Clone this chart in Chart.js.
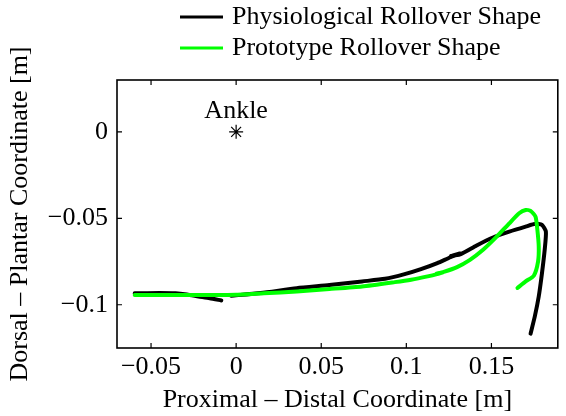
<!DOCTYPE html>
<html>
<head>
<meta charset="utf-8">
<script src="https://cdn.jsdelivr.net/npm/chart.js@4/dist/chart.umd.min.js"></script>
<style>
  html, body { margin: 0; padding: 0; background: #fff; }
  #wrap { width: 566px; height: 416px; position: relative; }
</style>
</head>
<body>
<div id="wrap"><canvas id="c" width="566" height="416"></canvas></div>
<script>
// ---- data ----
const seriesNames = ['Physiological Rollover Shape', 'Prototype Rollover Shape'];

// Physiological rollover shape (x: proximal-distal [m], y: dorsal-plantar [m]); NaN = pen up
const physX = [-0.0087, -0.0155, -0.0221, -0.0290, -0.0356, -0.0450, -0.0596, NaN,
  -0.0029, 0.0144, 0.0356, 0.0548, 0.0740, 0.0875, 0.0990, 0.1086, 0.1182, 0.1259, 0.1317, 0.1262, 0.1320,
  0.1413, 0.1509, 0.1605, 0.1701, 0.1759, 0.1797, 0.1820, 0.1813, 0.1797, 0.1778, 0.1755, 0.1730];
const physY = [-0.0975, -0.0962, -0.0952, -0.0941, -0.0934, -0.0932, -0.0934, NaN,
  -0.0948, -0.0932, -0.0904, -0.0886, -0.0865, -0.0850, -0.0823, -0.0794, -0.0759, -0.0725, -0.0703, -0.0718, -0.0707,
  -0.0657, -0.0611, -0.0577, -0.0548, -0.0532, -0.0538, -0.0577, -0.0682, -0.0817, -0.0952, -0.1067, -0.1167];

// Prototype rollover shape
const protoX = [-0.0596, -0.0400, -0.0221, 0.0000, 0.0163, 0.0356, 0.0548, 0.0740, 0.0932, 0.1028, 0.1125,
  0.1180, 0.1215, 0.1178, 0.1220, 0.1298, 0.1374, 0.1451, 0.1528, 0.1605, 0.1663, 0.1701, 0.1730, 0.1759,
  0.1770, 0.1778, 0.1774, 0.1749, 0.1701, 0.1653];
const protoY = [-0.0944, -0.0944, -0.0944, -0.0942, -0.0934, -0.0923, -0.0909, -0.0894, -0.0869, -0.0855, -0.0836,
  -0.0823, -0.0812, -0.0820, -0.0810, -0.0782, -0.0740, -0.0682, -0.0609, -0.0529, -0.0471, -0.0452, -0.0457, -0.0490,
  -0.0567, -0.0663, -0.0750, -0.0832, -0.0865, -0.0903];

// Ankle marker
const ankleX = [0];
const ankleY = [0];
const ankleLabel = 'Ankle';

// Axes
const xTicks = [-0.05, 0, 0.05, 0.1, 0.15];
const xTickLabels = ['\u22120.05', '0', '0.05', '0.1', '0.15'];
const yTicks = [-0.1, -0.05, 0];
const yTickLabels = ['\u22120.1', '\u22120.05', '0'];
const xTitle = 'Proximal \u2013 Distal Coordinate [m]';
const yTitle = 'Dorsal \u2013 Plantar Coordinate [m]';
const xRange = [-0.07, 0.189];
const yRange = [-0.125, 0.03];

// ---- styling ----
const FONT = "'Liberation Serif', 'Times New Roman', serif";
const FS = 26;
const colors = ['#000000', '#00ff00'];

const toPts = (xs, ys) => xs.map((x, i) => ({ x: x, y: ys[i] }));

const boxAndTicks = {
  id: 'boxAndTicks',
  afterDatasetsDraw(chart) {
    const { ctx, chartArea: a, scales } = chart;
    ctx.save();
    ctx.strokeStyle = '#000';
    ctx.lineWidth = 1.6;
    ctx.strokeRect(a.left, a.top, a.right - a.left, a.bottom - a.top);
    const tl = 5;
    ctx.lineWidth = 1.2;
    ctx.beginPath();
    scales.x.ticks.forEach((t, i) => {
      const px = scales.x.getPixelForTick(i);
      ctx.moveTo(px, a.bottom); ctx.lineTo(px, a.bottom - tl);
      ctx.moveTo(px, a.top); ctx.lineTo(px, a.top + tl);
    });
    scales.y.ticks.forEach((t, i) => {
      const py = scales.y.getPixelForTick(i);
      ctx.moveTo(a.left, py); ctx.lineTo(a.left + tl, py);
      ctx.moveTo(a.right, py); ctx.lineTo(a.right - tl, py);
    });
    ctx.stroke();

    // Ankle label, placed from the data value through the scales
    ctx.fillStyle = '#000';
    ctx.font = FS + 'px ' + FONT;
    ctx.textAlign = 'center';
    ctx.textBaseline = 'alphabetic';
    ctx.fillText(ankleLabel, scales.x.getPixelForValue(ankleX[0]), scales.y.getPixelForValue(ankleY[0]) - 14);
    ctx.restore();
  }
};

const legendPlugin = {
  id: 'matlabLegend',
  afterDraw(chart) {
    const { ctx } = chart;
    ctx.save();
    ctx.font = FS + 'px ' + FONT;
    ctx.textAlign = 'left';
    ctx.textBaseline = 'middle';
    const rows = [17, 48];
    seriesNames.forEach((name, i) => {
      const y = rows[i];
      ctx.strokeStyle = colors[i];
      ctx.lineWidth = 3;
      ctx.beginPath();
      ctx.moveTo(180, y);
      ctx.lineTo(223, y);
      ctx.stroke();
      ctx.fillStyle = '#000';
      ctx.fillText(name, 232, y);
    });
    ctx.restore();
  }
};

new Chart(document.getElementById('c'), {
  type: 'scatter',
  data: {
    datasets: [
      {
        label: seriesNames[0],
        data: toPts(physX, physY),
        showLine: true,
        spanGaps: false,
        borderColor: colors[0],
        backgroundColor: colors[0],
        borderWidth: 4,
        pointRadius: 0,
        tension: 0.2,
        borderCapStyle: 'round',
        borderJoinStyle: 'round',
        order: 2
      },
      {
        label: seriesNames[1],
        data: toPts(protoX, protoY),
        showLine: true,
        borderColor: colors[1],
        backgroundColor: colors[1],
        borderWidth: 4,
        pointRadius: 0,
        tension: 0.2,
        borderCapStyle: 'round',
        borderJoinStyle: 'round',
        order: 1
      },
      {
        label: ankleLabel,
        data: toPts(ankleX, ankleY),
        showLine: false,
        pointStyle: 'star',
        pointRadius: 7,
        borderColor: '#000',
        backgroundColor: '#000',
        pointBorderWidth: 1.2,
        order: 0
      }
    ]
  },
  options: {
    responsive: false,
    animation: false,
    events: [],
    layout: { padding: { top: 80, left: 0, right: 0, bottom: 0 } },
    plugins: { legend: { display: false }, tooltip: { enabled: false } },
    scales: {
      x: {
        type: 'linear',
        min: xRange[0], max: xRange[1],
        afterBuildTicks: (s) => { s.ticks = xTicks.map(v => ({ value: v })); },
        afterFit: (s) => { s.height = 68; },
        grid: { display: false, drawTicks: false },
        border: { display: false },
        ticks: {
          color: '#000', padding: 4, maxRotation: 0, autoSkip: false,
          font: { family: FONT, size: FS },
          callback: (v, i) => xTickLabels[i]
        },
        title: {
          display: true, text: xTitle, color: '#000',
          font: { family: FONT, size: FS, lineHeight: 1.2 },
          padding: { top: 0, bottom: 0 }
        }
      },
      y: {
        type: 'linear',
        min: yRange[0], max: yRange[1],
        afterBuildTicks: (s) => { s.ticks = yTicks.map(v => ({ value: v })); },
        afterFit: (s) => { s.width = 117; },
        grid: { display: false, drawTicks: false },
        border: { display: false },
        ticks: {
          color: '#000', padding: 9, autoSkip: false,
          font: { family: FONT, size: FS },
          callback: (v, i) => yTickLabels[i]
        },
        title: {
          display: true, text: yTitle, color: '#000',
          font: { family: FONT, size: FS, lineHeight: 1.2 },
          padding: { top: 5, bottom: 0 }
        }
      }
    }
  },
  plugins: [boxAndTicks, legendPlugin]
});
</script>
</body>
</html>
